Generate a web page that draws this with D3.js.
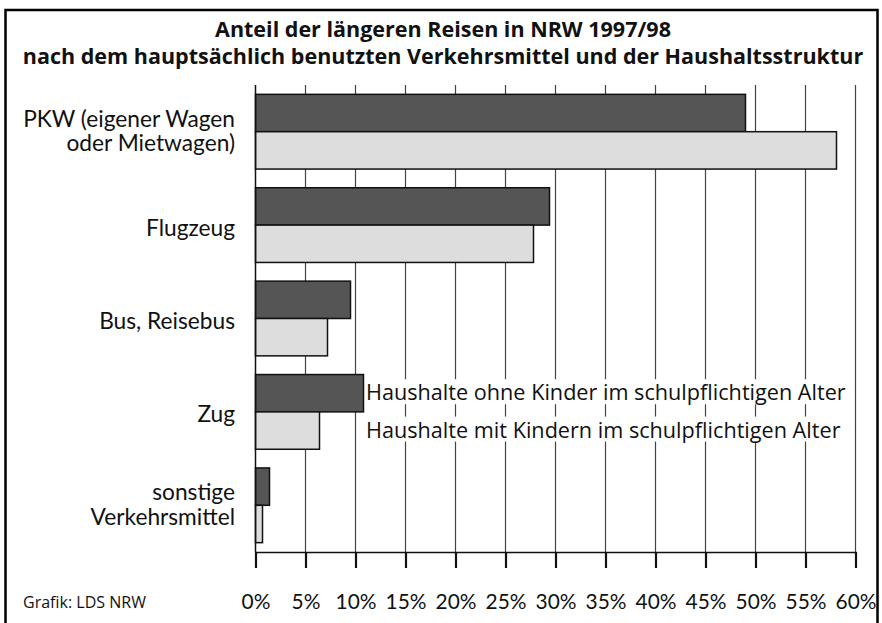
<!DOCTYPE html>
<html>
<head>
<meta charset="utf-8">
<script src="https://cdnjs.cloudflare.com/ajax/libs/d3/7.8.5/d3.min.js"></script>
<style>
	body { margin: 0; background: white; }
	svg { display: block; }
	text { fill: #111; }
</style>
</head>
<body>
<svg id="chart" width="882" height="623"></svg>
<script>
	// data
	var categories = [
		["PKW (eigener Wagen", "oder Mietwagen)"],
		["Flugzeug"],
		["Bus, Reisebus"],
		["Zug"],
		["sonstige", "Verkehrsmittel"]
	];
	var seriesNames = [
		"Haushalte ohne Kinder im schulpflichtigen Alter",
		"Haushalte mit Kindern im schulpflichtigen Alter"
	];
	var ohneKinder = [49.0, 29.4, 9.5, 10.8, 1.4];
	var mitKindern = [58.1, 27.8, 7.2, 6.4, 0.7];
	var tickValues = [0, 5, 10, 15, 20, 25, 30, 35, 40, 45, 50, 55, 60];
	var titleLines = [
		"Anteil der längeren Reisen in NRW 1997/98",
		"nach dem hauptsächlich benutzten Verkehrsmittel und der Haushaltsstruktur"
	];
	var source = "Grafik: LDS NRW";

	var svg = d3.select("#chart");
	var colors = ["#555555", "#dddddd"];

	// scale font-size of a group so that the reference text gets the given width
	function fitFont(sel, refNode, width) {
		var len = refNode.getComputedTextLength();
		var size = parseFloat(d3.select(refNode).style("font-size"));
		sel.style("font-size", (size * width / len) + "px");
	}

	// frame
	svg.append("rect")
		.attr("x", 5.5).attr("y", 10)
		.attr("width", 872).attr("height", 640)
		.attr("fill", "white")
		.attr("stroke", "black")
		.attr("stroke-width", 2.5);

	// title
	var title = svg.append("g").selectAll("text")
		.data(titleLines)
		.enter().append("text")
		.attr("x", 443)
		.attr("y", function(d, i) { return i == 0 ? 36.5 : 63.5; })
		.attr("text-anchor", "middle")
		.style("font-family", "'Open Sans', sans-serif")
		.style("font-weight", "bold")
		.style("font-size", "20px")
		.text(function(d) { return d; });
	fitFont(title, title.nodes()[1], 841);

	var x = d3.scaleLinear().domain([0, 60]).range([255.5, 855.5]);
	var y = d3.scaleBand()
		.domain(d3.range(categories.length))
		.range([85, 552])
		.paddingInner(0.2)
		.paddingOuter(0.1);
	var bh = y.bandwidth() / 2;

	// vertical grid
	svg.append("g").selectAll("line")
		.data(tickValues.slice(1))
		.enter().append("line")
		.attr("x1", function(d) { return x(d); })
		.attr("x2", function(d) { return x(d); })
		.attr("y1", 85).attr("y2", 552)
		.attr("stroke", "#444")
		.attr("stroke-width", 1.2);

	// legend texts with white backing, next to the Zug bars
	var zug = 3;
	var legend = svg.append("g");
	var legendRects = legend.selectAll("rect")
		.data(seriesNames)
		.enter().append("rect")
		.attr("fill", "white");
	var legendText = legend.selectAll("text")
		.data(seriesNames)
		.enter().append("text")
		.attr("x", 366)
		.attr("y", function(d, i) { return y(zug) + bh * i + bh / 2 + 7; })
		.style("font-family", "'Open Sans', sans-serif")
		.style("font-size", "18px")
		.text(function(d) { return d; });
	fitFont(legendText, legendText.nodes()[0], 480);
	legendRects.each(function(d, i) {
		var bb = legendText.nodes()[i].getBBox();
		d3.select(this)
			.attr("x", bb.x).attr("y", bb.y + 2)
			.attr("width", bb.width + 2).attr("height", bb.height - 4);
	});

	// bars
	var series = [ohneKinder, mitKindern];
	series.forEach(function(values, s) {
		svg.append("g").selectAll("rect")
			.data(values)
			.enter().append("rect")
			.attr("x", x(0))
			.attr("y", function(d, i) { return y(i) + bh * s; })
			.attr("width", function(d) { return x(d) - x(0); })
			.attr("height", bh)
			.attr("fill", colors[s])
			.attr("stroke", "#111")
			.attr("stroke-width", 1.5);
	});

	// left axis line
	svg.append("line")
		.attr("x1", x(0)).attr("x2", x(0))
		.attr("y1", 85).attr("y2", 552)
		.attr("stroke", "#111")
		.attr("stroke-width", 1.5);

	// bottom axis
	var axis = svg.append("g")
		.attr("transform", "translate(0,552)")
		.call(d3.axisBottom(x)
			.tickValues(tickValues)
			.tickSize(16)
			.tickPadding(26)
			.tickFormat(function(d) { return d + "%"; }));
	axis.select(".domain").attr("stroke", "#111").attr("stroke-width", 1.5);
	axis.selectAll(".tick line").attr("stroke", "#111").attr("stroke-width", 2.2);
	var tickText = axis.selectAll(".tick text")
		.attr("fill", "#111")
		.style("font-family", "Lato, sans-serif")
		.style("font-size", "18px");
	fitFont(tickText, tickText.nodes()[12], 41);

	// category labels
	var labels = svg.append("g").selectAll("text")
		.data(categories)
		.enter().append("text")
		.attr("text-anchor", "end")
		.style("font-family", "Lato, sans-serif")
		.style("font-size", "18px")
		.attr("y", function(d, i) {
			var c = y(i) + bh;
			return d.length == 1 ? c + 10.5 : c - 5;
		});
	labels.selectAll("tspan")
		.data(function(d) { return d; })
		.enter().append("tspan")
		.attr("x", 235)
		.attr("dy", function(d, i) { return i == 0 ? 0 : 24.5; })
		.text(function(d) { return d; });
	var refLabel = labels.nodes()[0].childNodes[0];
	var len = refLabel.getComputedTextLength();
	labels.style("font-size", (18 * 212 / len) + "px");

	// source
	var src = svg.append("text")
		.attr("x", 23).attr("y", 608)
		.style("font-family", "'Open Sans', sans-serif")
		.style("font-size", "14px")
		.text(source);
	fitFont(src, src.node(), 123);
</script>
</body>
</html>
